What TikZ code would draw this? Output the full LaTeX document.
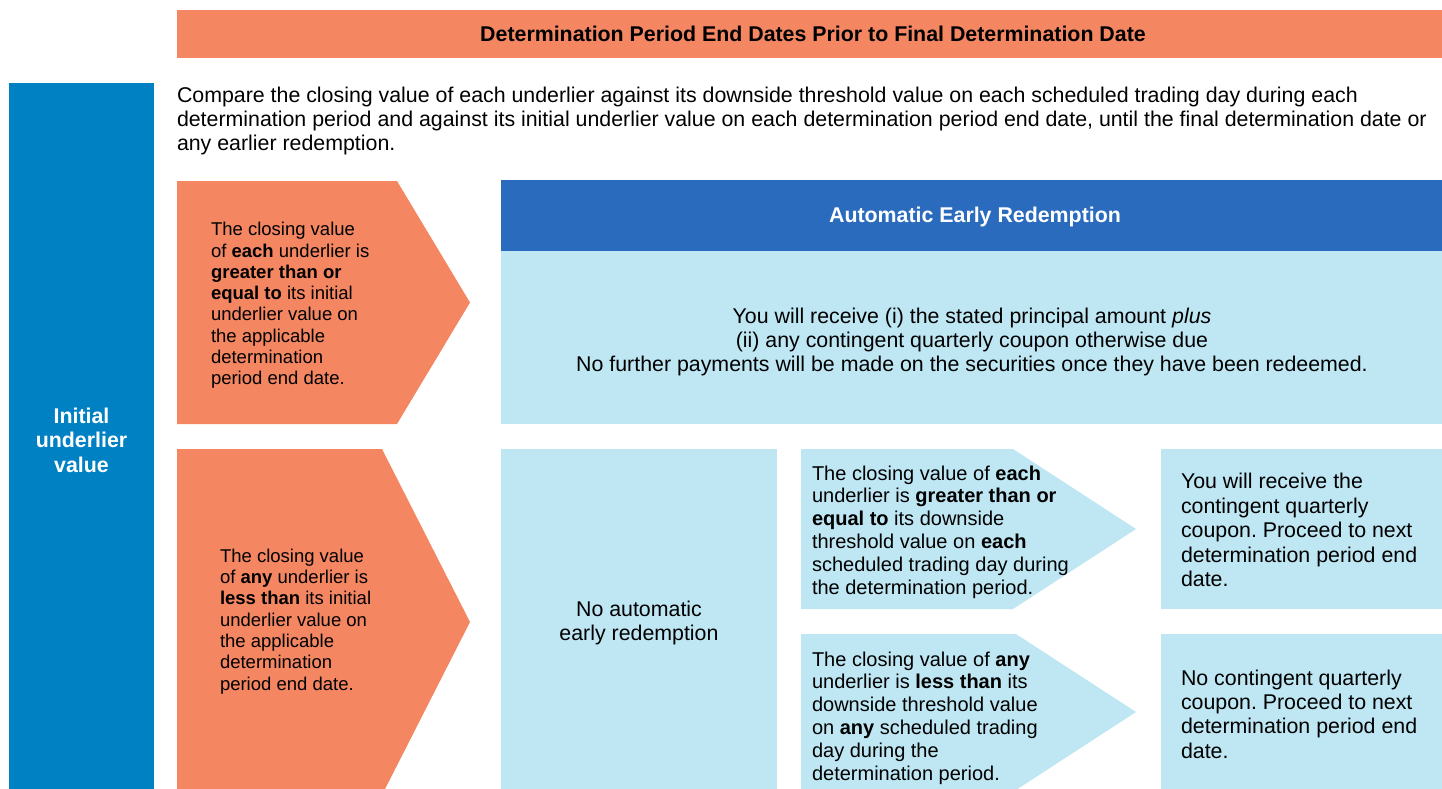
\documentclass[tikz,border=0pt]{standalone}
\usepackage{fontspec}
\setmainfont{Liberation Sans}
\frenchspacing
\definecolor{salmon}{RGB}{244,134,98}
\definecolor{barblue}{RGB}{0,129,196}
\definecolor{headblue}{RGB}{42,107,190}
\definecolor{paleblue}{RGB}{190,230,243}
\newcommand\fsz[2]{\fontsize{#1}{#2}\selectfont}
\tikzset{
  txt/.style={inner sep=0pt, outer sep=0pt, text=black, align=left, anchor=west},
  ctxt/.style={inner sep=0pt, outer sep=0pt, align=center},
  big/.style={font=\fsz{21.35}{24.4}},
  bigbold/.style={font=\fsz{21.35}{24.4}\bfseries},
  mid/.style={font=\fsz{20}{22.8}},
  small/.style={font=\fsz{18.5}{21.3}},
}
\begin{document}
\begin{tikzpicture}[x=1pt,y=-1pt]
\useasboundingbox (0,0) rectangle (1442,789);
\clip (0,0) rectangle (1442,789);
% banner and side bar
\fill[salmon] (177,10) rectangle (1442,58);
\fill[barblue] (9,83) rectangle (154,800);
% upper row: redemption branch
\fill[salmon] (177,181) -- (397,181) -- (470,302.5) -- (397,424) -- (177,424) -- cycle;
\fill[headblue] (501,180) rectangle (1442,251);
\fill[paleblue] (501,251) rectangle (1442,424);
% lower row: no redemption branch
\fill[salmon] (177,449) -- (382,449) -- (470,622) -- (382,795) -- (177,795) -- cycle;
\fill[paleblue] (501,449) rectangle (777,800);
\fill[paleblue] (801,449) -- (1013,449) -- (1136,529) -- (1013,609) -- (801,609) -- cycle;
\fill[paleblue] (1161,449) rectangle (1442,609);
\fill[paleblue] (801,634) -- (1016,634) -- (1136,712) -- (1016,790) -- (801,790) -- cycle;
\fill[paleblue] (1161,634) rectangle (1442,800);

\node[ctxt, bigbold] (title) at (813,34)
  {Determination Period End Dates Prior to Final Determination Date};
\node[ctxt, bigbold, text=white] (initial) at (81.5,440)
  {Initial\\underlier\\value};
\node[txt, big] (intro) at (177,121)
  {Compare the closing value of each underlier against its downside threshold value on each scheduled trading day during each\\
   determination period and against its initial underlier value on each determination period end date, until the final determination date or\\
   any earlier redemption.};
\node[txt, small] (up) at (211,305.5)
  {The closing value\\of \textbf{each} underlier is\\\textbf{greater than or}\\\textbf{equal to} its initial\\underlier value on\\the applicable\\determination\\period end date.};
\node[txt, small] (down) at (220,621.5)
  {The closing value\\of \textbf{any} underlier is\\\textbf{less than} its initial\\underlier value on\\the applicable\\determination\\period end date.};
\node[ctxt, bigbold, text=white] (auto) at (975,217)
  {Automatic Early Redemption};
\node[ctxt, big] (autotext) at (972,342)
  {You will receive (i) the stated principal amount \textit{plus}\\(ii) any contingent quarterly coupon otherwise due\\No further payments will be made on the securities once they have been redeemed.};
\node[ctxt, big] (noauto) at (639,623)
  {No automatic\\early redemption};
\node[txt, mid] (above) at (812,532)
  {The closing value of \textbf{each}\\underlier is \textbf{greater than or}\\\textbf{equal to} its downside\\threshold value on \textbf{each}\\scheduled trading day during\\the determination period.};
\node[txt, mid] (below) at (812,718)
  {The closing value of \textbf{any}\\underlier is \textbf{less than} its\\downside threshold value\\on \textbf{any} scheduled trading\\day during the\\determination period.};
\node[txt, big] (coupon) at (1181,530)
  {You will receive the\\contingent quarterly\\coupon. Proceed to next\\determination period end\\date.};
\node[txt, big] (nocoupon) at (1181,714)
  {No contingent quarterly\\coupon. Proceed to next\\determination period end\\date.};
\end{tikzpicture}
\end{document}
